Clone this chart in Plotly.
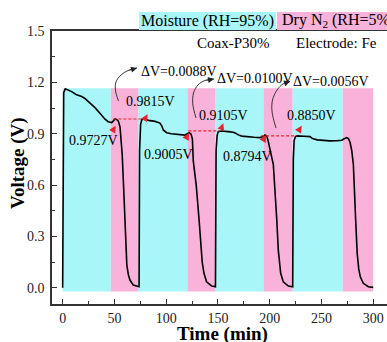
import plotly.graph_objects as go

# ---------------- data ----------------
time_min = [0, 0.3, 1.0, 2.5, 5, 8.7, 13.5, 18.4, 21.5, 26.4, 31.2, 36, 40.9, 44, 47.3, 49, 50.5, 52, 53.7,
            55.4, 56.3, 57.5, 58.8, 60.0, 61.0, 62.0, 63.5, 65, 68.2, 72, 73.8, 74.3, 75.3, 76.5, 77.9,
            83, 89.2, 94, 95.8, 97.2, 100.5, 105, 110, 115, 118, 120.5, 122.3, 124, 125.3, 126.2, 129,
            132, 133.5, 134.8, 136.5, 139, 144, 147.6, 148.2, 149.2, 150.3, 153.6, 160, 164.8, 167, 169.7,
            173, 177.8, 185, 190.6, 193, 195.5, 197.3, 198.6, 200, 203.5, 206.8, 208.3, 210.6, 213.1, 218,
            222.2, 222.8, 223.6, 224.8, 226.1, 233, 239, 240.5, 242, 246, 250, 258, 265, 269.6, 272, 274.4,
            276.2, 277.6, 279.3, 280.8, 283, 284.5, 286, 287.5, 290.4, 295.3, 300]
voltage = [0.0, 0.85, 1.14, 1.162, 1.155, 1.146, 1.127, 1.117, 1.106, 1.080, 1.052, 1.02, 0.985, 0.970, 0.965,
           0.975, 0.986, 0.983, 0.975, 0.94, 0.86, 0.78, 0.60, 0.38, 0.22, 0.13, 0.075, 0.045, 0.016, 0.006,
           0.006, 0.80, 0.955, 0.982, 0.986, 0.978, 0.972, 0.962, 0.945, 0.922, 0.906, 0.900, 0.897, 0.893,
           0.892, 0.900, 0.906, 0.898, 0.87, 0.74, 0.60, 0.38, 0.24, 0.15, 0.084, 0.035, 0.01, 0.006, 0.80,
           0.89, 0.912, 0.916, 0.912, 0.909, 0.903, 0.893, 0.886, 0.882, 0.879, 0.877, 0.882, 0.893, 0.885,
           0.855, 0.81, 0.72, 0.40, 0.22, 0.084, 0.035, 0.01, 0.006, 0.75, 0.86, 0.882, 0.887, 0.885, 0.883,
           0.876, 0.870, 0.864, 0.862, 0.858, 0.859, 0.862, 0.870, 0.877, 0.870, 0.85, 0.80, 0.72, 0.40, 0.20,
           0.11, 0.064, 0.026, 0.006, 0.002]

# humidity periods (min)
moist_start = [0, 73, 147.5, 222]
moist_end = [46.5, 120.5, 194, 270.5]
dry_start = [46.5, 120.5, 194, 270.5]
dry_end = [73, 147.5, 222, 300]
band_bottom, band_top = -0.022, 1.166

# dashed reference lines (start, end, level)
dash_start = [49, 121.4, 191.7]
dash_end = [79.5, 152, 226.1]
dash_level = [0.986, 0.916, 0.887]

# value labels
val_text = ["0.9727V", "0.9815V", "0.9005V", "0.9105V", "0.8794V", "0.8850V"]
val_x = [29.3, 85.3, 102.7, 154.9, 178.1, 240.0]
val_y = [0.863, 1.091, 0.776, 1.009, 0.764, 1.004]
# red arrows: tail -> head
red_tail_x = [47.9, 78.9, 118.6, 152.7, 193.9, 227.7]
red_tail_y = [0.912, 0.980, 0.866, 0.922, 0.863, 0.916]
red_head_x = [51.2, 82.1, 122.0, 155.2, 196.5, 231.0]
red_head_y = [0.947, 1.013, 0.904, 0.961, 0.892, 0.947]

# delta-V labels and curved leaders
dv_text = ["ΔV=0.0088V", "ΔV=0.0100V", "ΔV=0.0056V"]
dv_x = [73.7, 147.2, 220.1]
dv_y = [1.262, 1.220, 1.205]
arc_x = [[53.9, 51.0, 51.5, 56.3, 63.1, 71.8],
         [128.8, 125.7, 126.4, 130.7, 137.5, 146.2],
         [206.1, 202.3, 202.7, 207.1, 212.9, 219.6]]
arc_y = [[1.091, 1.155, 1.202, 1.243, 1.269, 1.284],
         [0.992, 1.074, 1.138, 1.185, 1.211, 1.220],
         [0.933, 1.027, 1.097, 1.155, 1.191, 1.205]]

x_ticks = [0, 50, 100, 150, 200, 250, 300]
y_ticks = [0.0, 0.3, 0.6, 0.9, 1.2, 1.5]

# ---------------- styling ----------------
SERIF = "Liberation Serif, Times New Roman, serif"
CYAN = "#a8f6f7"
PINK = "#f9b2da"
RED = "#e8232b"

fig = go.Figure()

shapes = []
for s, e in zip(moist_start, moist_end):
    shapes.append(dict(type="rect", xref="x", yref="y", x0=s, x1=e, y0=band_bottom, y1=band_top,
                       fillcolor=CYAN, line=dict(width=0), layer="below"))
for s, e in zip(dry_start, dry_end):
    shapes.append(dict(type="rect", xref="x", yref="y", x0=s, x1=e, y0=band_bottom, y1=band_top,
                       fillcolor=PINK, line=dict(width=0), layer="below"))
for s, e, lv in zip(dash_start, dash_end, dash_level):
    shapes.append(dict(type="line", xref="x", yref="y", x0=s, x1=e, y0=lv, y1=lv,
                       line=dict(color=RED, width=1.2, dash="3px,2px")))
# legend boxes above the plot
shapes.append(dict(type="rect", xref="paper", yref="paper", x0=0.2597, x1=0.6687, y0=1.004, y1=1.07,
                   fillcolor=CYAN, line=dict(width=0)))
shapes.append(dict(type="rect", xref="paper", yref="paper", x0=0.6716, x1=1.0, y0=1.004, y1=1.07,
                   fillcolor=PINK, line=dict(width=0)))

fig.add_trace(go.Scatter(x=time_min, y=voltage, mode="lines",
                         line=dict(color="black", width=1.6), showlegend=False, hoverinfo="skip"))

for ax_, ay_ in zip(arc_x, arc_y):
    fig.add_trace(go.Scatter(x=ax_, y=ay_, mode="lines", line=dict(color="#222", width=0.9, shape="spline"),
                             showlegend=False, hoverinfo="skip"))

ann = []
for t, x, y in zip(val_text, val_x, val_y):
    ann.append(dict(x=x, y=y, xref="x", yref="y", text=t, showarrow=False, xanchor="center", yanchor="middle",
                    font=dict(family=SERIF, size=14, color="black")))
for tx, ty, hx, hy in zip(red_tail_x, red_tail_y, red_head_x, red_head_y):
    ann.append(dict(x=hx, y=hy, ax=tx, ay=ty, xref="x", yref="y", axref="x", ayref="y", text="",
                    showarrow=True, arrowhead=2, arrowsize=1, arrowwidth=1.4, arrowcolor=RED))
for t, x, y, ax_, ay_ in zip(dv_text, dv_x, dv_y, arc_x, arc_y):
    ann.append(dict(x=x, y=y, xref="x", yref="y", text=t, showarrow=False, xanchor="left", yanchor="middle",
                    font=dict(family=SERIF, size=14, color="black")))
    ann.append(dict(x=ax_[-1], y=ay_[-1], ax=ax_[-2], ay=ay_[-2], xref="x", yref="y", axref="x", ayref="y",
                    text="", showarrow=True, arrowhead=2, arrowsize=1.2, arrowwidth=1, arrowcolor="#222"))
ann.append(dict(x=165.5, y=1.430, xref="x", yref="y", text="Coax-P30%", showarrow=False,
                xanchor="center", yanchor="middle", font=dict(family=SERIF, size=15, color="black")))
ann.append(dict(x=223.5, y=1.430, xref="x", yref="y", text="Electrode: Fe", showarrow=False, xanchor="left",
                yanchor="middle", font=dict(family=SERIF, size=15, color="black")))
ann.append(dict(x=0.464, y=1.037, xref="paper", yref="paper", text="Moisture (RH=95%)", showarrow=False,
                xanchor="center", yanchor="middle", font=dict(family=SERIF, size=16, color="black")))
ann.append(dict(x=0.6806, y=1.037, xref="paper", yref="paper", text="Dry N<sub>2</sub> (RH=5%)",
                showarrow=False, xanchor="left", yanchor="middle", font=dict(family=SERIF, size=16, color="black")))
ann.append(dict(x=0.5104, y=-0.11, xref="paper", yref="paper", text="<b>Time (min)</b>", showarrow=False,
                xanchor="center", yanchor="middle", font=dict(family=SERIF, size=19, color="black")))
ann.append(dict(x=-0.1015, y=0.5165, xref="paper", yref="paper", text="<b>Voltage (V)</b>", showarrow=False,
                xanchor="center", yanchor="middle", textangle=-90,
                font=dict(family=SERIF, size=19, color="black")))

fig.update_layout(
    width=387, height=342, autosize=False,
    margin=dict(l=52, r=0, t=31, b=38),
    plot_bgcolor="white", paper_bgcolor="white",
    shapes=shapes, annotations=ann, showlegend=False,
    xaxis=dict(range=[-10.3, 313.3], tickvals=x_ticks, ticks="inside", ticklen=5, tickwidth=1.3,
               tickcolor="#333", showline=True, linecolor="#333", linewidth=1.6, mirror=True,
               showgrid=False, zeroline=False, tickfont=dict(family=SERIF, size=14, color="#222"),
               minor=dict(tickvals=[25, 75, 125, 175, 225, 275], ticks="inside", ticklen=3,
                          tickcolor="#333", showgrid=False)),
    yaxis=dict(range=[-0.095, 1.5], tickvals=y_ticks, ticktext=["0.0", "0.3", "0.6", "0.9", "1.2", "1.5"],
               ticks="inside", ticklen=5, tickwidth=1.3, tickcolor="#333", showline=True, linecolor="#333",
               linewidth=1.6, showgrid=False, zeroline=False, ticklabelstandoff=3,
               tickfont=dict(family=SERIF, size=14, color="#222"),
               minor=dict(tickvals=[0.15, 0.45, 0.75, 1.05, 1.35], ticks="inside", ticklen=3,
                          tickcolor="#333", showgrid=False)),
)

fig.write_html("out.html", config={"displayModeBar": False},
               post_script="document.body.style.margin='0';document.body.style.overflow='hidden';")
